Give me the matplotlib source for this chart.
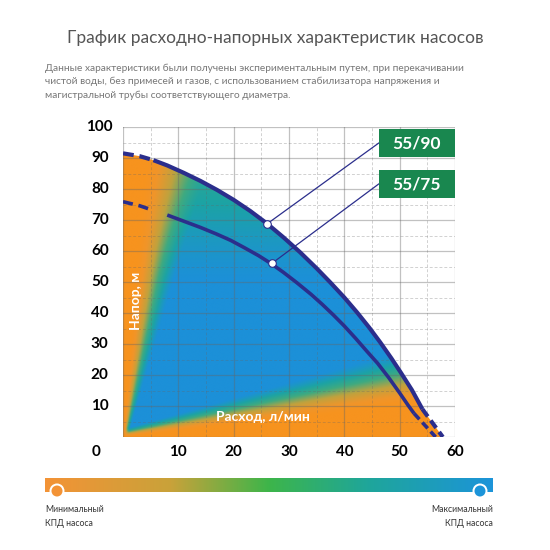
import numpy as np
import matplotlib
matplotlib.use('Agg')
import matplotlib.pyplot as plt
from matplotlib.colors import LinearSegmentedColormap
from matplotlib.patches import Polygon, Rectangle, Circle

plt.rcParams['font.family'] = ['Lato', 'DejaVu Sans']

# расходно-напорные кривые (расход л/мин, напор м)
q_90 = [0, 3, 5.5, 8, 11, 14, 17, 20, 23, 26, 29, 32, 35, 37.5, 40, 42.3,
        44.5, 46.5, 48.5, 50.2, 52.2, 54.1]
h_90 = [91.5, 90.6, 89.3, 87.6, 85.2, 82.6, 79.7, 76.5, 72.9, 68.9, 64.4, 59.6,
        54.4, 49.8, 45, 40.2, 35.3, 30.5, 25.4, 20.8, 15.2, 9.0]
q_90_end = [54.1, 57.8]
h_90_end = [9.0, 0]

q_75 = [0, 3, 5.3, 8, 11, 14, 17, 19.5, 22, 24.5, 26.8, 29, 31.4, 34, 36, 38,
        40, 42, 44, 46, 48, 50, 51.5, 52.6]
h_75 = [75.9, 74.6, 73.2, 71.6, 69.6, 67.6, 65.4, 63.4, 61.0, 58.5, 55.9, 53.1,
        49.8, 46.0, 42.8, 39.4, 35.8, 31.9, 27.8, 23.8, 19.2, 14.2, 10.3, 7.6]
q_75_end = [52.6, 56.5]
h_75_end = [7.6, 0]

models = ['55/90', '55/75']
marker_q = [26, 26.9]
marker_h = [68.7, 56.0]

x_ticks = [10, 20, 30, 40, 50, 60]
y_ticks = [10, 20, 30, 40, 50, 60, 70, 80, 90, 100]

navy = '#2B2E8C'
green_box = '#19874F'

cmap_chart = LinearSegmentedColormap.from_list('kpd', [
    (0.0, '#F7931E'), (0.12, '#F0952A'), (0.35, '#BFA23E'), (0.6, '#3FAA80'),
    (0.8, '#1CA3A4'), (1.0, '#1C90D8')])
cmap_bar = LinearSegmentedColormap.from_list('bar', [
    (0.0, '#F39336'), (0.28, '#C9A23A'), (0.5, '#3DB54A'),
    (0.72, '#1FA69A'), (1.0, '#1C94D9')])


def ramp(t):
    t = np.clip(t, 0, 1)
    return 0.5 * t + 0.5 * t * t * (3 - 2 * t)


fig = plt.figure(figsize=(5.5, 5.5), dpi=100)
ax = fig.add_axes([123/550, 1-437/550, 332/550, 310/550])
ax.set_xlim(0, 60)
ax.set_ylim(0, 100)
ax.axis('off')

# фон КПД
xs = np.linspace(0, 60, 601)
ys = np.linspace(0, 100, 1001)
X, Y = np.meshgrid(xs, ys)
L = ramp((X - 0.045 * Y) / (0.12 * Y + 0.8))
B = ramp((Y - 0.2 * X) / (2.5 + 0.3 * X))
T = 1 - 0.3 * ramp((Y - 50) / 40)
E = L * B * T

img = ax.imshow(E, extent=(0, 60, 0, 100), origin='lower', cmap=cmap_chart,
                vmin=0, vmax=1, aspect='auto', interpolation='bilinear', zorder=1)
verts = [(0, 0)] + list(zip(q_90, h_90)) + list(zip(q_90_end, h_90_end))
clip = Polygon(verts, closed=True, transform=ax.transData, facecolor='none', edgecolor='none')
ax.add_patch(clip)
img.set_clip_path(clip)

# сетка
for v in range(0, 61, 10):
    ax.plot([v, v], [0, 100], color='#666666', alpha=0.4, lw=0.9, zorder=2)
for v in range(5, 60, 10):
    ax.plot([v, v], [0, 100], color='#666666', alpha=0.3, lw=0.7, ls=(0, (3, 2)), zorder=2)
for v in range(0, 101, 10):
    ax.plot([0, 60], [v, v], color='#666666', alpha=0.4, lw=0.9, zorder=2)
for v in range(5, 100, 10):
    ax.plot([0, 60], [v, v], color='#666666', alpha=0.3, lw=0.7, ls=(0, (3, 2)), zorder=2)

# кривые
ax.plot(q_90[:3], h_90[:3], color=navy, lw=3, ls=(0, (2.6, 1.4)), zorder=4)
ax.plot(q_90[2:], h_90[2:], color=navy, lw=3, zorder=4, solid_capstyle='butt')
ax.plot(q_90_end, h_90_end, color=navy, lw=3, ls=(0, (2.2, 1.2)), zorder=4)
ax.plot(q_75[:3], h_75[:3], color=navy, lw=2.6, ls=(0, (2.8, 1.6)), zorder=4)
ax.plot(q_75[3:], h_75[3:], color=navy, lw=2.6, zorder=4, solid_capstyle='butt')
ax.plot(q_75_end, h_75_end, color=navy, lw=2.6, ls=(0, (2.2, 1.2)), zorder=4)

# подписи моделей
box_y = [90.3, 77.1]
for name, mq, mh, by in zip(models, marker_q, marker_h, box_y):
    ax.plot([mq, 46.2], [mh, by + 4.5], color=navy, lw=0.9, zorder=5)
    ax.plot(mq, mh, 'o', ms=5.5, mfc='white', mec=navy, mew=0.8, zorder=6)
    ax.add_patch(Rectangle((46.2, by), 13.8, 9, facecolor=green_box,
                           edgecolor='none', zorder=6))
    ax.text(53.1, by + 4.5, name, color='white', fontsize=12.5, fontweight='bold',
            ha='center', va='center', zorder=7)

ax.text(2.4, 44, 'Напор, м', color='white', fontsize=10, fontweight='bold',
        rotation=90, ha='center', va='center', zorder=5)
ax.text(25.3, 6.5, 'Расход, л/мин', color='white', fontsize=10, fontweight='bold',
        ha='center', va='center', zorder=5)

# метки осей
for v in y_ticks:
    ax.text(-4.2, v, str(v), fontsize=11, fontweight='bold', ha='center',
            va='center', clip_on=False)
for v in x_ticks:
    ax.text(v, -4.8, str(v), fontsize=11, fontweight='bold', ha='center',
            va='center', clip_on=False)
ax.text(-4.9, -4.8, '0', fontsize=11, fontweight='bold', ha='center',
        va='center', clip_on=False)

# заголовок
fig.text(0.5, 1-38/550, 'График расходно-напорных характеристик насосов',
         fontsize=12.5, color='#555555', ha='center', va='center')
sub = ['Данные характеристики были получены экспериментальным путем, при перекачивании',
       'чистой воды, без примесей и газов, с использованием стабилизатора напряжения и',
       'магистральной трубы соответствующего диаметра.']
for i, s in enumerate(sub):
    fig.text(45/550, 1-(68 + i*13.5)/550, s, fontsize=7.3, color='#777777',
             ha='left', va='center')

# шкала КПД
cax = fig.add_axes([45/550, 1-492/550, 448/550, 14/550])
cax.imshow(np.linspace(0, 1, 256)[None, :], cmap=cmap_bar, aspect='auto',
           extent=(0, 1, 0, 1))
cax.axis('off')
for cx, col in [(57/550, '#F39336'), (480/550, '#1C94D9')]:
    fig.add_artist(Circle((cx, 1-491/550), 7.5/550, facecolor='white',
                          edgecolor='none', transform=fig.transFigure, zorder=10))
    fig.add_artist(Circle((cx, 1-491/550), 5.5/550, facecolor=col,
                          edgecolor='none', transform=fig.transFigure, zorder=11))

fig.text(45/550, 1-510/550, 'Минимальный', fontsize=6.2, color='#333333', ha='left', va='center')
fig.text(45/550, 1-523/550, 'КПД насоса', fontsize=6.2, color='#333333', ha='left', va='center')
fig.text(493/550, 1-510/550, 'Максимальный', fontsize=6.2, color='#333333', ha='right', va='center')
fig.text(493/550, 1-523/550, 'КПД насоса', fontsize=6.2, color='#333333', ha='right', va='center')

fig.savefig('out.png', dpi=100, facecolor='white')
